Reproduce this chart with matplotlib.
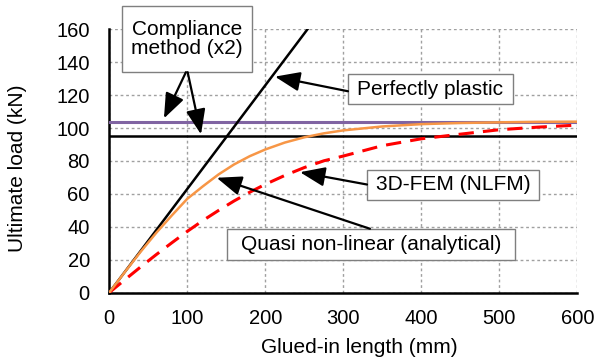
import matplotlib
matplotlib.use("Agg")
import matplotlib.pyplot as plt
from matplotlib.patches import Rectangle

plt.rcParams['font.family'] = ['Liberation Sans', 'DejaVu Sans']

# ---- data ----
x_curve = [0, 20, 40, 60, 80, 100, 120, 140, 160, 180, 200, 225, 250, 275, 300,
           350, 400, 450, 500, 550, 600]
quasi_nonlinear = [0, 12.5, 24.7, 36.2, 46.8, 57.0, 64.6, 71.8, 77.9, 82.9, 87.0, 91.2,
                   94.4, 96.8, 98.6, 101.0, 102.4, 103.1, 103.5, 103.8, 103.9]
fem_nlfm = [0, 7.8, 15.5, 23.0, 30.2, 37.2, 43.8, 49.9, 55.7, 61.0, 65.8, 71.2,
            76.0, 80.1, 83.0, 89.3, 93.5, 96.3, 99.0, 100.6, 101.8]

compliance_x = [0, 254]
compliance_y = [0, 160]
compliance_plateau = 95.0
plastic_level = 104.0
x_range = [0, 600]

xticks = [0, 100, 200, 300, 400, 500, 600]
yticks = [0, 20, 40, 60, 80, 100, 120, 140, 160]

fig = plt.figure(figsize=(5.97, 3.63), dpi=100)
ax = fig.add_axes([0.183, 0.194, 0.784, 0.725])

ax.set_xlim(0, 600)
ax.set_ylim(0, 160)
ax.set_xticks(xticks)
ax.set_yticks(yticks)
ax.grid(True, color='#a0a0a0', linestyle=(0, (2, 2)), linewidth=1.0)
ax.set_axisbelow(True)
for s in ['top', 'right']:
    ax.spines[s].set_visible(False)
for s in ['left', 'bottom']:
    ax.spines[s].set_linewidth(1.8)
    ax.spines[s].set_color('black')
ax.tick_params(axis='both', length=0, labelsize=14.5)
ax.tick_params(axis='y', pad=14)
ax.tick_params(axis='x', pad=12)

ax.plot(x_range, [plastic_level, plastic_level], color='#8064a2', lw=2.2, zorder=3)
ax.plot(x_range, [compliance_plateau, compliance_plateau], color='black', lw=1.8, zorder=3)
ax.plot(compliance_x, compliance_y, color='black', lw=1.8, zorder=3)
ax.plot(x_curve, fem_nlfm, color='#ff0000', lw=2.2, linestyle=(0, (5, 3)), zorder=4)
ax.plot(x_curve, quasi_nonlinear, color='#f79646', lw=1.8, zorder=5)

ax.set_xlabel('Glued-in length (mm)', fontsize=15)
ax.set_ylabel('Ultimate load (kN)', fontsize=15)
ax.xaxis.set_label_coords(0.535, -0.172)
ax.yaxis.set_label_coords(-0.176, 0.473)

def box(x0, x1, y0, y1, text):
    r = Rectangle((x0, y0), x1 - x0, y1 - y0, facecolor='white', edgecolor='#7f7f7f',
                  lw=1.0, zorder=6, clip_on=False)
    ax.add_patch(r)
    ax.text((x0 + x1) / 2, (y0 + y1) / 2, text, ha='center', va='center',
            fontsize=15, zorder=7, linespacing=1.05)

def arrow(xy_from, xy_to):
    ax.annotate('', xy=xy_to, xytext=xy_from,
                arrowprops=dict(arrowstyle='-|>,head_length=0.9,head_width=0.35',
                                color='black', lw=1.6, shrinkA=0, shrinkB=0,
                                mutation_scale=17),
                zorder=8, annotation_clip=False)

box(16.3, 183, 134, 174.2, 'Compliance\nmethod (x2)')
arrow((98.3, 134), (70.1, 105.9))
arrow((100.5, 134), (117.6, 96.2))

box(306, 517.6, 114.5, 132.7, 'Perfectly plastic')
arrow((306, 122.4), (212.4, 131.3))

box(330.4, 551, 56.5, 74.8, '3D-FEM (NLFM)')
arrow((330.4, 65.7), (244.5, 73.2))

box(150.5, 520, 19.9, 38.8, 'Quasi non-linear (analytical)')
arrow((334.2, 38.8), (137.7, 69.8))

fig.savefig('out.png', dpi=100)
